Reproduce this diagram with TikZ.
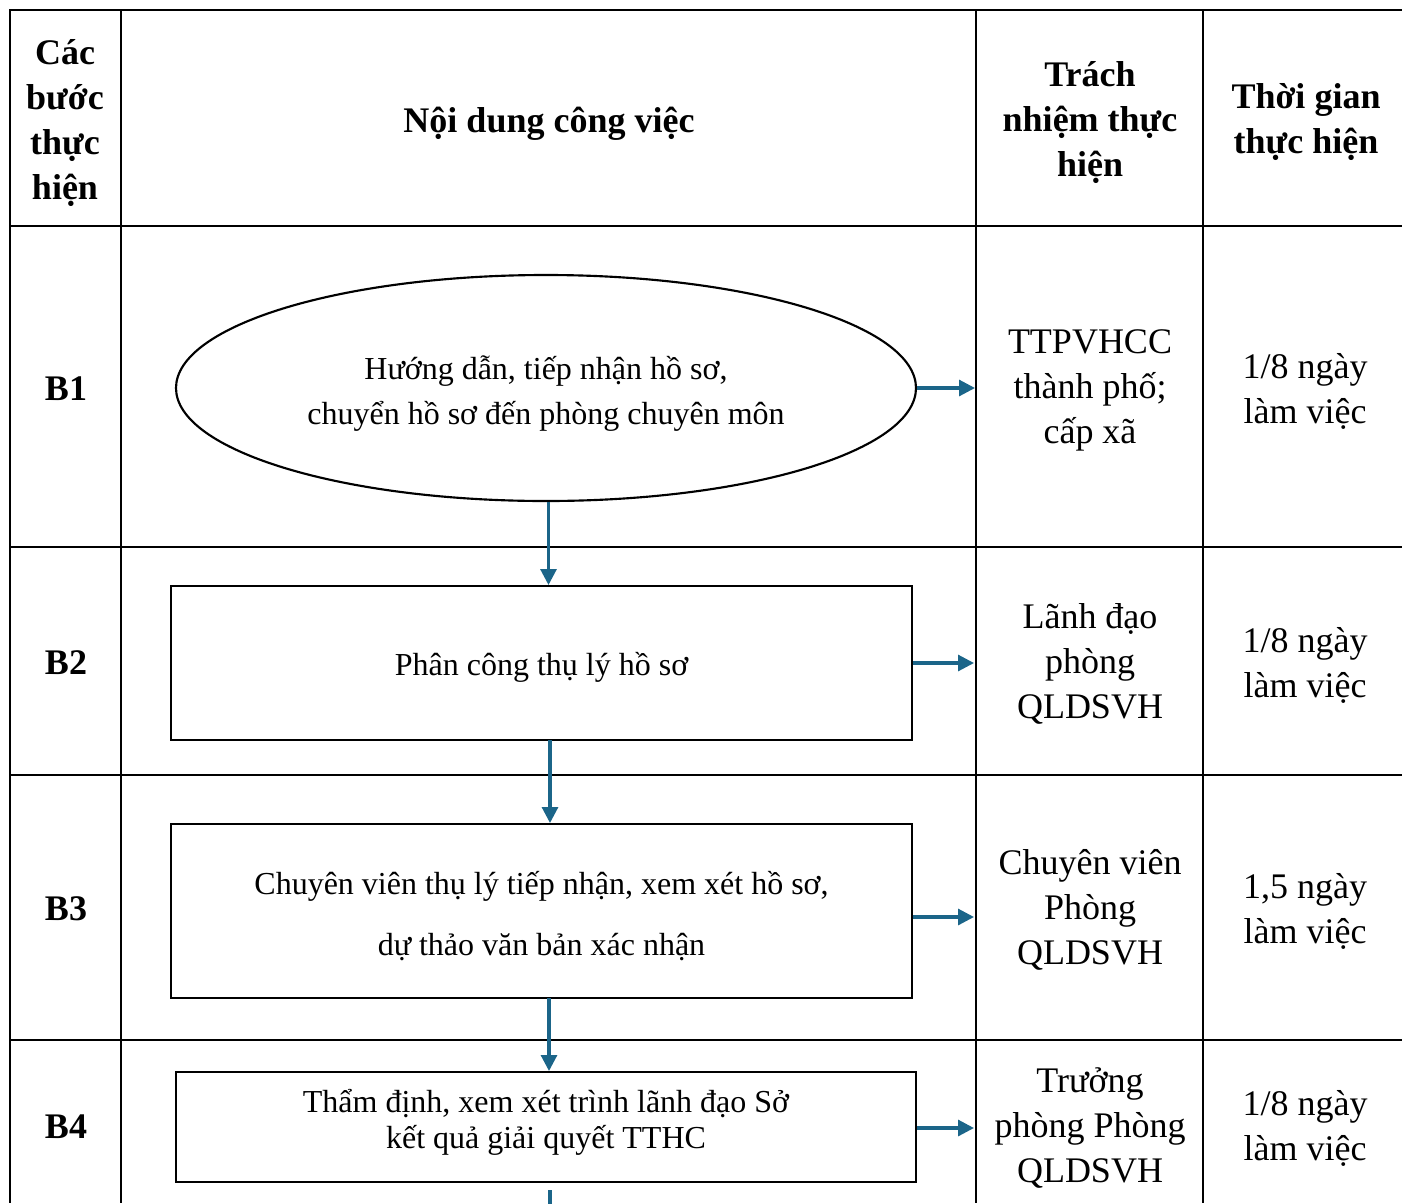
\documentclass[tikz,border=0pt]{standalone}
\usepackage{fontspec}
\setmainfont{Liberation Serif}
\usetikzlibrary{arrows.meta,shapes.geometric}
\definecolor{arrowblue}{RGB}{27,101,137}
\begin{document}
\begin{tikzpicture}[x=0.75pt,y=-0.75pt,
  gridline/.style={line width=1.6pt,black},
  boxshape/.style={draw,line width=1.6pt,inner sep=0pt},
  boxtext/.style={align=center,inner sep=0pt,font=\fontsize{24}{33.75}\selectfont},
  flow/.style={line width=2.3pt,arrowblue,-{Triangle[length=12pt,width=12pt]}},
  head/.style={font=\bfseries\fontsize{27}{33.75}\selectfont,align=center,inner sep=0pt},
  cell/.style={font=\fontsize{27}{33.75}\selectfont,align=center,inner sep=0pt}]
\useasboundingbox (0,0) rectangle (1402,1203);
% table grid
\draw[gridline] (1402,10) -- (10,10) -- (10,1203);
\foreach \yy in {226,547,775,1040} \draw[gridline] (10,\yy) -- (1402,\yy);
\foreach \xx in {121,976,1203} \draw[gridline] (\xx,10) -- (\xx,1203);
% header
\node[head] (h0) at (65,123) {Các\\bước\\thực\\hiện};
\node[head] (h1) at (549,124) {Nội dung công việc};
\node[head] (h2) at (1090,123) {Trách\\nhiệm thực\\hiện};
\node[head] (h3) at (1306,122) {Thời gian\\thực hiện};
% step labels
\node[head] (s1) at (66,389) {B1};
\node[head] (s2) at (66,663) {B2};
\node[head] (s3) at (66,909) {B3};
\node[head] (s4) at (66,1127) {B4};
% flow shapes
\node[boxshape,ellipse,minimum width=555pt,minimum height=169.5pt,
  label={[boxtext,name=t1,yshift=-4pt]center:{Hướng dẫn, tiếp nhận hồ sơ,\\chuyển hồ sơ đến phòng chuyên môn}}] (e1) at (546,388) {};
\node[boxshape,rectangle,minimum width=555.75pt,minimum height=115.5pt,
  label={[boxtext,name=t2,yshift=-3.5pt]center:{Phân công thụ lý hồ sơ}}] (b2) at (541.5,663) {};
\node[boxshape,rectangle,minimum width=555.75pt,minimum height=130.5pt,
  label={[boxtext,name=t3,yshift=-4pt,font=\fontsize{24}{45.75}\selectfont]center:{Chuyên viên thụ lý tiếp nhận, xem xét hồ sơ,\\dự thảo văn bản xác nhận}}] (b3) at (541.5,911) {};
\node[boxshape,rectangle,minimum width=555pt,minimum height=82.5pt,
  label={[boxtext,name=t4,yshift=3.8pt,font=\fontsize{24}{27}\selectfont]center:{Thẩm định, xem xét trình lãnh đạo Sở\\kết quả giải quyết TTHC}}] (b4) at (546,1127) {};
% responsibility
\node[cell] (r1) at (1090,390) {TTPVHCC\\thành phố;\\cấp xã};
\node[cell] (r2) at (1090,664) {Lãnh đạo\\phòng\\QLDSVH};
\node[cell] (r3) at (1090,910) {Chuyên viên\\Phòng\\QLDSVH};
\node[cell] (r4) at (1090,1128) {Trưởng\\phòng Phòng\\QLDSVH};
% time
\node[cell] (d1) at (1305,391) {1/8 ngày\\làm việc};
\node[cell] (d2) at (1305,665) {1/8 ngày\\làm việc};
\node[cell] (d3) at (1305,911) {1,5 ngày\\làm việc};
\node[cell] (d4) at (1305,1128) {1/8 ngày\\làm việc};
% arrow targets on column line
\coordinate (c1) at (975,388);
\coordinate (c2) at (974,663);
\coordinate (c3) at (974,917);
\coordinate (c4) at (974,1128);
\coordinate (b2top) at (548.5,585);
\coordinate (b2bot) at (550,740);
\coordinate (b3top) at (550,823);
\coordinate (b3bot) at (549,998);
\coordinate (b4top) at (549,1071);
\coordinate (tail) at (550,1190);
\coordinate (tailend) at (550,1205);
% connectors
\draw[flow] (e1.east) -- (c1);
\draw[flow] (b2.east |- c2) -- (c2);
\draw[flow] (b3.east |- c3) -- (c3);
\draw[flow] (b4.east |- c4) -- (c4);
\draw[flow] (e1.south -| b2top) -- (b2top);
\draw[flow] (b2bot) -- (b3top);
\draw[flow] (b3bot) -- (b4top);
\draw[line width=2.3pt,arrowblue] (tail) -- (tailend);
\end{tikzpicture}
\end{document}
